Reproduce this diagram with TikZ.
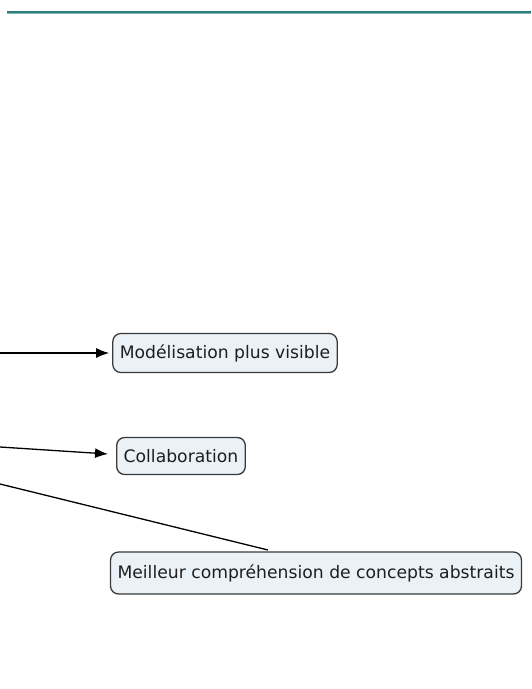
\documentclass[tikz,border=0pt]{standalone}
\usepackage{fontspec}
\setmainfont{DejaVu Sans}
\usepackage{xcolor}
\usepackage{tikz}
\usetikzlibrary{arrows.meta}
\definecolor{boxfill}{HTML}{EAF2F7}
\definecolor{boxline}{HTML}{3A3A3A}
\definecolor{boxtext}{HTML}{1E1E1E}
\definecolor{rule}{HTML}{2F7F7C}
\definecolor{rulelight}{HTML}{7FB8B6}
\begin{document}
\begin{tikzpicture}[x=1pt, y=-1pt,
    concept/.style={draw=boxline, fill=boxfill, text=boxtext, line width=1.3pt, rounded corners=8pt,
      minimum height=39pt, inner xsep=7pt, font=\fontsize{17.2}{19}\selectfont},
    link/.style={line width=1.3pt, black},
    tip/.style={-{Latex[length=13pt,width=10pt]}}]
    \useasboundingbox (0,0) rectangle (531,689);
    % Top rule
    \coordinate (ruleL) at (7,12);
    \coordinate (ruleR) at (531,12);
    \draw[rule, line width=1.3pt] (ruleL) -- (ruleR);
    \draw[rulelight, line width=0.8pt] ([yshift=-1.3pt]ruleL) -- ([yshift=-1.3pt]ruleR);
    % Concepts
    \node[concept] (visible) at (225,353) {Modélisation plus visible};
    \node[concept, minimum height=37pt] (collab) at (181,456) {Collaboration};
    \node[concept, minimum height=42pt] (abstrait) at (316,573) {Meilleur compréhension de concepts abstraits};
    % Free ends of the links
    \coordinate (srcA) at (0,353);
    \coordinate (srcB) at (0,447);
    \coordinate (srcC) at (0,484);
    % Links
    \draw[link, tip] (srcA) -- ([xshift=-3pt]visible.west);
    \draw[link, tip] (srcB) -- ([xshift=-8pt,yshift=2pt]collab.west);
    \draw[link] (srcC) -- (268,550);
\end{tikzpicture}
\end{document}
